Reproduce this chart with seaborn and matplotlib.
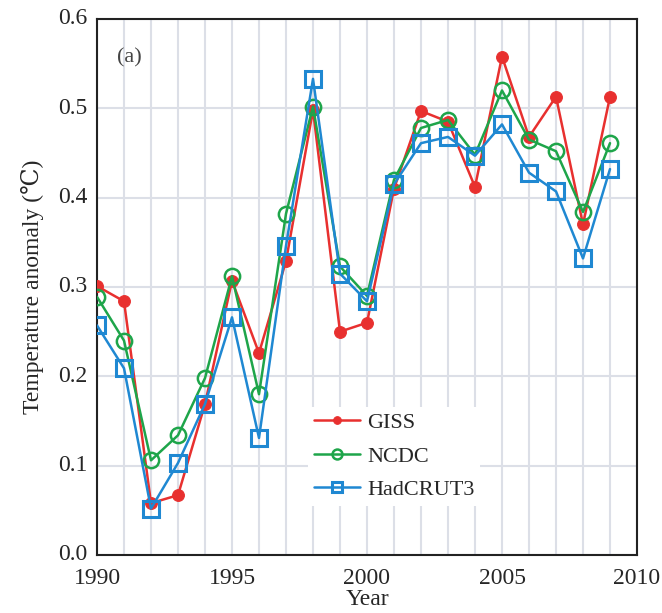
import matplotlib
matplotlib.use("Agg")
import matplotlib.pyplot as plt
import seaborn as sns
import pandas as pd

years = list(range(1990, 2010))
giss = [0.301, 0.284, 0.058, 0.067, 0.169, 0.307, 0.226, 0.329, 0.498, 0.250,
        0.260, 0.410, 0.497, 0.485, 0.412, 0.558, 0.468, 0.513, 0.370, 0.513]
ncdc = [0.289, 0.240, 0.106, 0.134, 0.198, 0.312, 0.180, 0.382, 0.502, 0.323,
        0.290, 0.420, 0.478, 0.487, 0.448, 0.520, 0.465, 0.452, 0.384, 0.461]
hadcrut = [0.257, 0.209, 0.052, 0.103, 0.169, 0.266, 0.131, 0.346, 0.533, 0.315,
           0.284, 0.415, 0.461, 0.468, 0.447, 0.482, 0.428, 0.407, 0.332, 0.432]
series_names = ["GISS", "NCDC", "HadCRUT3"]
x_ticks = [1990, 1995, 2000, 2005, 2010]
y_ticks = [0.0, 0.1, 0.2, 0.3, 0.4, 0.5, 0.6]

df = pd.DataFrame({
    "Year": years * 3,
    "Anomaly": giss + ncdc + hadcrut,
    "Series": [n for n in series_names for _ in years],
})

sns.set_style("white")
serif = ["Liberation Serif", "DejaVu Serif", "Noto Sans CJK SC"]
plt.rcParams["font.family"] = serif

fig = plt.figure(figsize=(6.62, 6.13), dpi=100)
ax = fig.add_axes([97 / 662, 1 - 555 / 613, 540 / 662, 536 / 613])

styles = {
    "GISS": dict(color="#e8302f", marker="o", markersize=8.5, mfc="#e8302f", mec="#e8302f"),
    "NCDC": dict(color="#1ea54a", marker="o", markersize=11, mfc="none", mec="#1ea54a", mew=1.8),
    "HadCRUT3": dict(color="#1f88d2", marker="s", markersize=11, mfc="none", mec="#1f88d2", mew=2.2),
}
for i, name in enumerate(series_names):
    sub = df[df["Series"] == name]
    sns.lineplot(data=sub, x="Year", y="Anomaly", ax=ax, label=name,
                 linewidth=1.8, zorder=3 + i, **styles[name])

ax.set_xlim(1990, 2010)
ax.set_ylim(0, 0.6)
ax.set_xticks(range(1990, 2011), minor=True)
ax.set_xticks(x_ticks)
ax.set_xticklabels([str(t) for t in x_ticks])
ax.set_yticks(y_ticks)
ax.set_yticklabels([f"{t:.1f}" for t in y_ticks])
ax.grid(True, which="both", axis="x", color="#dcdfe7", linewidth=1.5)
ax.grid(True, which="major", axis="y", color="#dcdfe7", linewidth=1.5)
ax.tick_params(axis="both", which="both", length=0, labelsize=17)
ax.tick_params(axis="x", pad=9)
ax.tick_params(axis="y", pad=7)
for lab in ax.get_yticklabels():
    lab.set_verticalalignment("center")
for s in ax.spines.values():
    s.set_color("#222222")
    s.set_linewidth(1.5)
ax.set_axisbelow(True)

ax.set_xlabel("Year", fontsize=17)
ax.xaxis.set_label_coords(0.5, -0.064)
ax.set_ylabel("Temperature anomaly (\u2103)", fontsize=17, labelpad=10)
ax.text(0.037, 0.927, "(a)", transform=ax.transAxes, fontsize=16,
        color="#444444", va="center", ha="left")

leg = ax.legend(loc="upper left", bbox_to_anchor=(0.391, 0.276), borderaxespad=0,
                frameon=True, fancybox=False, framealpha=1, edgecolor="white",
                facecolor="white", fontsize=16, markerscale=0.65, handlelength=2.1,
                labelspacing=0.58, borderpad=0.25, handletextpad=0.3)
leg.get_frame().set_linewidth(0)

fig.savefig("out.png", dpi=100)
